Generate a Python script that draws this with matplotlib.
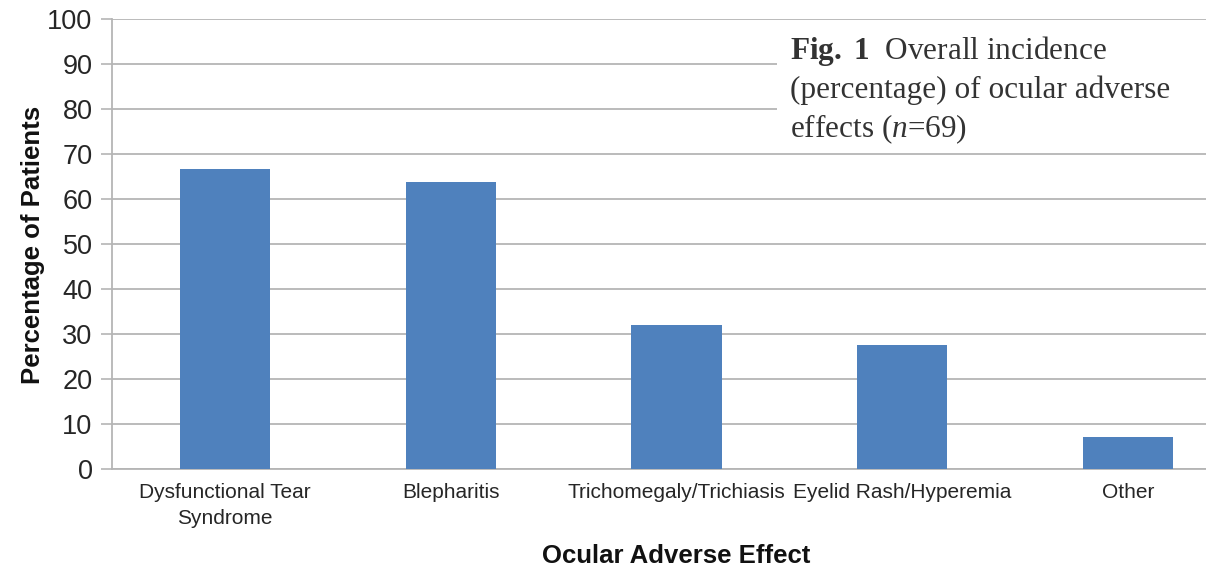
import matplotlib
matplotlib.use("Agg")
import matplotlib.pyplot as plt
from matplotlib.patches import Rectangle

categories = ["Dysfunctional Tear\nSyndrome", "Blepharitis", "Trichomegaly/Trichiasis",
              "Eyelid Rash/Hyperemia", "Other"]
percent = [66.7, 63.8, 31.9, 27.5, 7.2]
yticks = list(range(0, 101, 10))

plt.rcParams["font.family"] = ["Liberation Sans", "DejaVu Sans"]
plt.rcParams["mathtext.fontset"] = "custom"
plt.rcParams["mathtext.rm"] = "Liberation Serif"
plt.rcParams["mathtext.it"] = "Liberation Serif:italic"
plt.rcParams["mathtext.bf"] = "Liberation Serif:bold"

W, H = 1206, 569
fig = plt.figure(figsize=(W / 100, H / 100), dpi=100)
# axes runs past the right edge of the figure on purpose
ax = fig.add_axes([112 / W, 1 - 469 / H, 1129 / W, 450 / H])

x = range(len(categories))
ax.bar(x, percent, width=0.4, color="#4f81bd", zorder=3)

ax.set_xlim(-0.5, len(categories) - 0.5)
ax.set_ylim(0, 100)
ax.set_yticks(yticks)
ax.set_xticks(list(x))
ax.set_xticklabels(categories, fontsize=15, color="#262626", linespacing=1.45)
ax.tick_params(axis="x", length=0, pad=10)
ax.tick_params(axis="y", length=8, width=1.2, color="#b5b5b5", pad=6,
               labelsize=19.5, labelcolor="#262626")
ax.yaxis.grid(True, color="#b5b5b5", linewidth=1.3, zorder=0)

for side in ["top", "right"]:
    ax.spines[side].set_visible(False)
for side in ["left", "bottom"]:
    ax.spines[side].set_color("#b5b5b5")
    ax.spines[side].set_linewidth(1.3)

fig.text(676 / W, 1 - 556 / H, "Ocular Adverse Effect", fontsize=18.5,
         fontweight="bold", ha="center", va="center", color="#111111")
fig.text(33 / W, 1 - 245 / H, "Percentage of Patients", fontsize=18.5,
         fontweight="bold", ha="center", va="center", rotation=90, color="#111111")

# caption block over the upper right of the grid
fig.patches.append(Rectangle((777 / W, 1 - 152 / H), (W - 777) / W, 131 / H,
                             transform=fig.transFigure, facecolor="white",
                             edgecolor="none", zorder=5))
caption = [r"$\mathbf{Fig.}$ $\mathbf{1}$  Overall incidence",
           "(percentage) of ocular adverse",
           r"effects ($\mathit{n}$=69)"]
for i, line in enumerate(caption):
    fig.text(790 / W, 1 - (59 + 39 * i) / H, line, fontsize=22.5,
             family="Liberation Serif", color="#333333", va="baseline", zorder=6)

fig.savefig("out.png", dpi=100)
